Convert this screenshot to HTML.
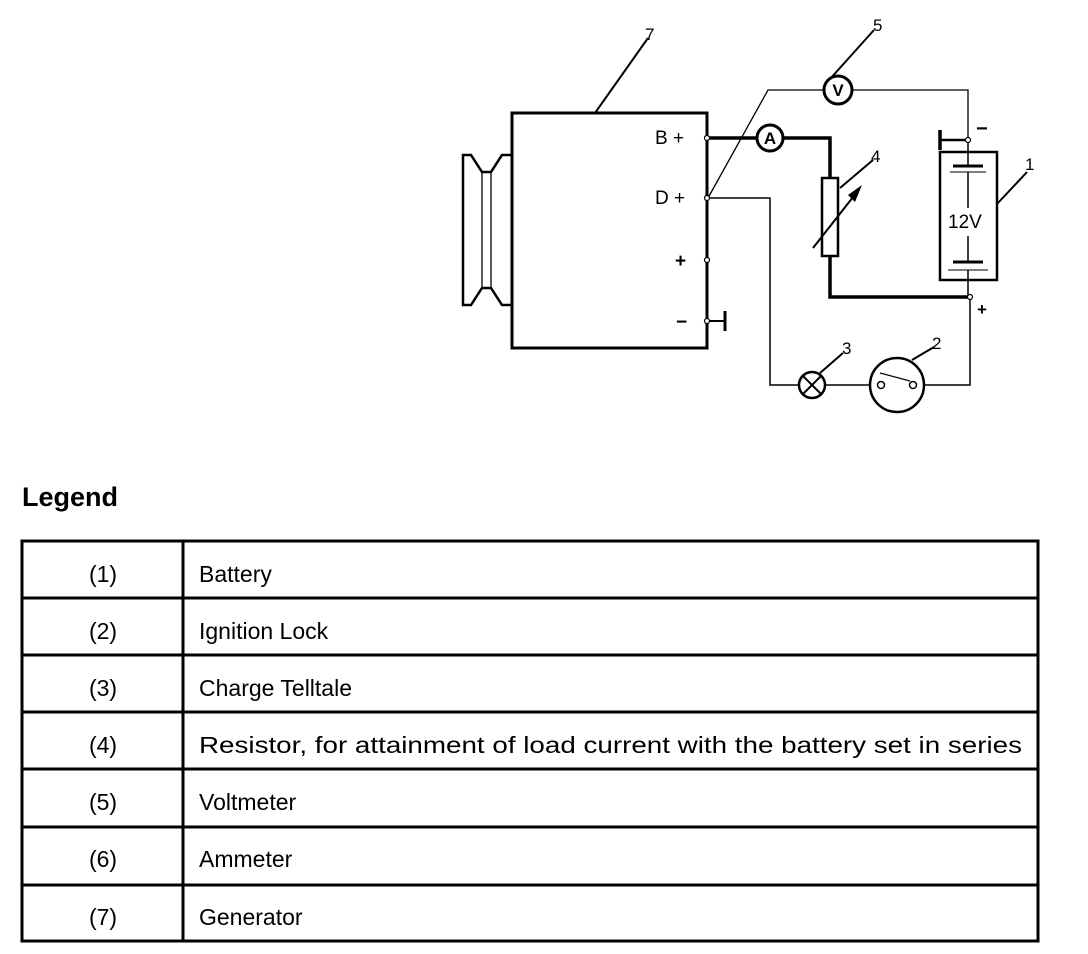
<!DOCTYPE html>
<html><head><style>html,body{margin:0;padding:0;background:#fff}svg{display:block}</style></head>
<body>
<svg width="1088" height="954" viewBox="0 0 1088 954" xmlns="http://www.w3.org/2000/svg" font-family="Liberation Sans, Arial, sans-serif">
<g fill="none" stroke="#000">
<!-- pulley -->
<path d="M512 155 H502 L491 172 H482 L471 155 H463 V305 H471 L482 288 H491 L502 305 H512" stroke-width="2.5"/>
<line x1="482" y1="172" x2="482" y2="288" stroke-width="1.3"/>
<line x1="491" y1="172" x2="491" y2="288" stroke-width="1.3"/>
<!-- generator -->
<rect x="512" y="113" width="195" height="235" stroke-width="3"/>
<path d="M708 138 H757 M783 138 H830 V178 M830 256 V297 H970" stroke-width="3.5"/>
<circle cx="770" cy="138" r="13" stroke-width="3"/>
<rect x="822" y="178" width="16" height="78" stroke-width="2.5"/>
<line x1="813" y1="248" x2="857" y2="192" stroke-width="2"/>
<path d="M708 198 L768 90 H824 M852 90 H968 V140" stroke-width="1.3"/>
<circle cx="838" cy="90" r="14" stroke-width="3"/>
<path d="M940 140 H968" stroke-width="2.5"/>
<line x1="940" y1="130" x2="940" y2="150" stroke-width="3.5"/>
<rect x="940" y="152" width="57" height="128" stroke-width="2.5"/>
<path d="M968 140 V165 M968 172 V208 M968 236 V262 M968 270 V297" stroke-width="1.5"/>
<line x1="953" y1="166" x2="983" y2="166" stroke-width="3"/>
<line x1="950" y1="172" x2="986" y2="172" stroke-width="1"/>
<line x1="953" y1="262" x2="983" y2="262" stroke-width="3"/>
<line x1="948" y1="270" x2="988" y2="270" stroke-width="1"/>
<path d="M708 198 H770 V385 H799 M825 385 H869 M925 385 H970 V297" stroke-width="1.5"/>
<circle cx="812" cy="385" r="13" stroke-width="2.5"/>
<path d="M803 376 L821 394 M821 376 L803 394" stroke-width="2"/>
<circle cx="897" cy="385" r="27" stroke-width="2.5"/>
<circle cx="881" cy="385" r="3.5" stroke-width="1.5"/>
<circle cx="913" cy="385" r="3.5" stroke-width="1.5"/>
<line x1="880" y1="373" x2="910" y2="381" stroke-width="1.2"/>
<path d="M708 321 H725" stroke-width="2"/>
<line x1="725" y1="311" x2="725" y2="331" stroke-width="3"/>
<path d="M595 113 L648 38" stroke-width="2"/>
<path d="M830 79 L874 30" stroke-width="2"/>
<path d="M840 188 L873 160" stroke-width="2"/>
<path d="M997 204 L1027 172" stroke-width="2"/>
<path d="M820 373 L843 353" stroke-width="2"/>
<path d="M912 360 L934 347" stroke-width="2"/>
</g>
<polygon points="862,185 848,195 855,202" fill="#000"/>
<g fill="#fff" stroke="#000" stroke-width="1.2">
<circle cx="707" cy="138" r="2.5"/><circle cx="707" cy="198" r="2.5"/><circle cx="707" cy="260" r="2.5"/><circle cx="707" cy="321" r="2.5"/>
<circle cx="968" cy="140" r="2.5"/><circle cx="970" cy="297" r="2.5"/>
</g>
<g font-size="19" fill="#000">
<text x="655" y="144">B +</text>
<text x="655" y="204">D +</text>
<text x="675" y="267" font-weight="bold">+</text>
<text x="676" y="328" font-weight="bold">−</text>
<text x="976" y="135" font-size="20" font-weight="bold">−</text>
<text x="977" y="315" font-size="17" font-weight="bold">+</text>
<text x="948" y="228" font-size="19">12V</text>
<text x="645" y="40" font-size="17">7</text>
<text x="873" y="31" font-size="17">5</text>
<text x="871" y="162" font-size="17">4</text>
<text x="1025" y="170" font-size="17">1</text>
<text x="842" y="354" font-size="17">3</text>
<text x="932" y="349" font-size="17">2</text>
<text x="838" y="96" font-size="17" font-weight="bold" text-anchor="middle">V</text>
<text x="770" y="144" font-size="17" font-weight="bold" text-anchor="middle">A</text>
</g>
<text x="22" y="506" font-size="27" font-weight="bold">Legend</text>
<g fill="none" stroke="#000" stroke-width="3">
<rect x="22" y="541" width="1016" height="400"/>
<line x1="183" y1="541" x2="183" y2="941"/>
<line x1="22" y1="598" x2="1038" y2="598"/>
<line x1="22" y1="655" x2="1038" y2="655"/>
<line x1="22" y1="712" x2="1038" y2="712"/>
<line x1="22" y1="769" x2="1038" y2="769"/>
<line x1="22" y1="827" x2="1038" y2="827"/>
<line x1="22" y1="885" x2="1038" y2="885"/>
</g>
<g font-size="23" fill="#000">
<text x="103" y="582" text-anchor="middle">(1)</text><text x="199" y="582">Battery</text>
<text x="103" y="639" text-anchor="middle">(2)</text><text x="199" y="639">Ignition  Lock</text>
<text x="103" y="696" text-anchor="middle">(3)</text><text x="199" y="696">Charge  Telltale</text>
<text x="103" y="753" text-anchor="middle">(4)</text><text x="199" y="753" textLength="823" lengthAdjust="spacingAndGlyphs">Resistor, for attainment of load current with the battery set in series</text>
<text x="103" y="810" text-anchor="middle">(5)</text><text x="199" y="810">Voltmeter</text>
<text x="103" y="867" text-anchor="middle">(6)</text><text x="199" y="867">Ammeter</text>
<text x="103" y="925" text-anchor="middle">(7)</text><text x="199" y="925">Generator</text>
</g>
</svg>
</body></html>
